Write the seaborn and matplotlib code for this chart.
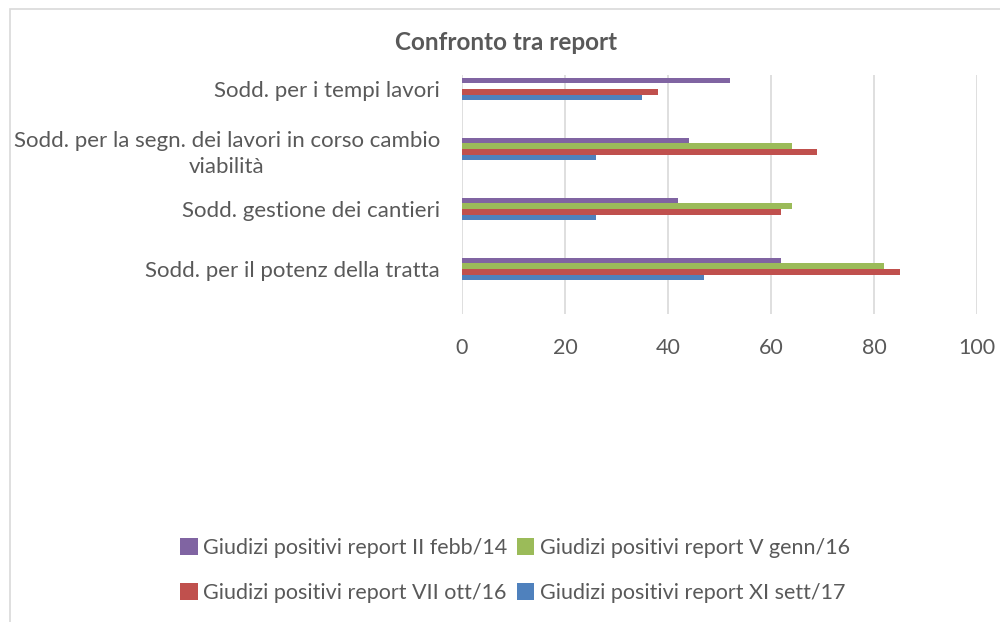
import numpy as np
import pandas as pd
import matplotlib.pyplot as plt
import seaborn as sns
import matplotlib.patches as patches

# ---- data ----
categories = [
    "Sodd. per i tempi lavori",
    "Sodd. per la segn. dei lavori in corso cambio\nviabilità",
    "Sodd. gestione dei cantieri",
    "Sodd. per il potenz della tratta",
]
series = [
    "Giudizi positivi report II febb/14",
    "Giudizi positivi report V genn/16",
    "Giudizi positivi report VII ott/16",
    "Giudizi positivi report XI sett/17",
]
val_II_febb14 = [52, 44, 42, 62]
val_V_genn16 = [np.nan, 64, 64, 82]
val_VII_ott16 = [38, 69, 62, 85]
val_XI_sett17 = [35, 26, 26, 47]
colors = ["#8064A2", "#9BBB59", "#C0504D", "#4F81BD"]

df = pd.DataFrame({
    "categoria": categories * 4,
    "serie": np.repeat(series, 4),
    "valore": val_II_febb14 + val_V_genn16 + val_VII_ott16 + val_XI_sett17,
})

# ---- figure ----
sns.set_style("white")
plt.rcParams['font.family'] = ['Lato', 'DejaVu Sans']
text_col = "#595959"

fig = plt.figure(figsize=(10, 6.22), dpi=100)
ax = fig.add_axes([0.462, 0.4952, 0.515, 0.385])

sns.barplot(data=df, y="categoria", x="valore", hue="serie",
            order=categories, hue_order=series, palette=colors,
            orient="h", width=0.375, saturation=1, ax=ax,
            edgecolor="none", legend=True)

ax.set_xlim(0, 100)
ax.set_ylim(3.75, -0.242)
ax.set_xticks(range(0, 101, 20))
ax.xaxis.grid(True, color="#D9D9D9", linewidth=1.2)
ax.yaxis.grid(False)
ax.set_axisbelow(True)
for s in ax.spines.values():
    s.set_visible(False)
ax.set_xlabel("")
ax.set_ylabel("")
ax.tick_params(axis="x", length=0, pad=17, labelsize=15.5, labelcolor=text_col)
ax.tick_params(axis="y", length=0, pad=16, labelsize=16, labelcolor=text_col)
for lbl in ax.get_yticklabels():
    lbl.set_multialignment("center")
    lbl.set_linespacing(1.35)

fig.text(0.506, 0.932, "Confronto tra report", ha="center", va="center",
         fontsize=17.5, fontweight="bold", color=text_col)

# legend: two rows, purple/green then red/blue
handles, labels = ax.get_legend_handles_labels()
ax.legend_.remove()
idx = [0, 2, 1, 3]
fig.legend([handles[i] for i in idx], [labels[i] for i in idx],
           loc="center", bbox_to_anchor=(0.515, 0.083), ncol=2, frameon=False,
           fontsize=15.5, labelcolor=text_col, handlelength=0.8, handleheight=0.8,
           handletextpad=0.25, columnspacing=0.45, labelspacing=1.15)

# chart border
fig.patches.append(patches.Rectangle((0.010, -0.05), 1.1, 0.036 + 1.0,
                                     transform=fig.transFigure, fill=False,
                                     edgecolor="#D9D9D9", linewidth=1.2))

fig.savefig("out.png", dpi=100)
